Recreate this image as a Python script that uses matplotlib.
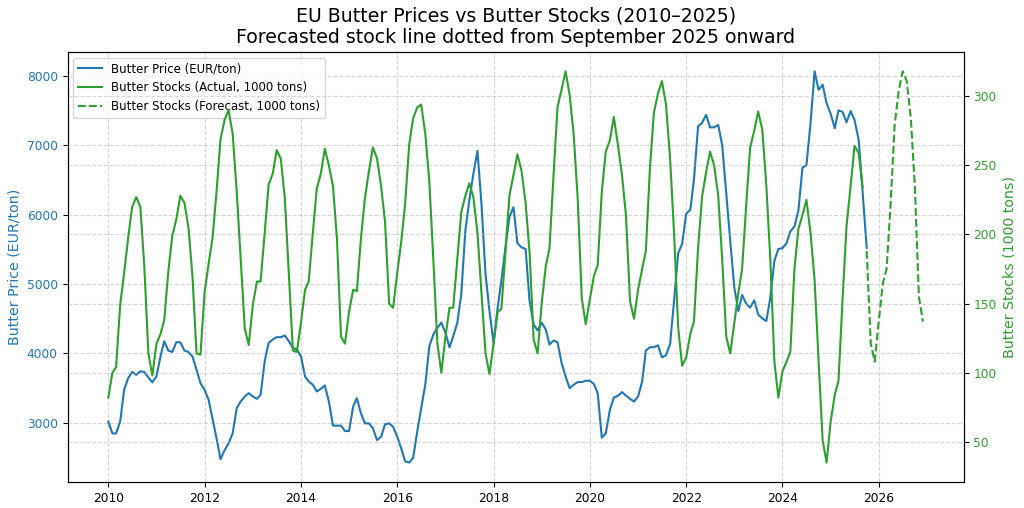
import pandas as pd
import matplotlib
matplotlib.use('Agg')
import matplotlib.pyplot as plt
import matplotlib.dates as mdates

# monthly butter price, Jan 2010 - Oct 2025 (EUR/ton)
price = [
    3015, 2845, 2845, 3015, 3473, 3643, 3730, 3690, 3740, 3730, 3652, 3580,
    3667, 3956, 4174, 4039, 4019, 4159, 4159, 4039, 4019, 3956, 3763, 3570,
    3473, 3328, 3063, 2773, 2473, 2604, 2700, 2845, 3208, 3304, 3377, 3425,
    3377, 3343, 3401, 3884, 4150, 4198, 4232, 4232, 4256, 4174, 4077, 4053,
    3956, 3667, 3594, 3546, 3449, 3488, 3536, 3304, 2957, 2957, 2957, 2879,
    2879, 3232, 3353, 3135, 2990, 2990, 2918, 2749, 2797, 2976, 2990, 2942,
    2797, 2628, 2444, 2425, 2493, 2870, 3208, 3546, 4101, 4270, 4367, 4440,
    4295, 4087, 4246, 4440, 4850, 5768, 6203, 6589, 6918, 6155, 5140, 4609,
    4150, 4657, 5043, 5527, 5961, 6106, 5585, 5527, 5502, 4754, 4415, 4328,
    4440, 4343, 4126, 4184, 4160, 3860, 3667, 3498, 3546, 3585, 3585, 3604,
    3604, 3556, 3425, 2783, 2845, 3184, 3362, 3386, 3440, 3391, 3343, 3304,
    3377, 3594, 4039, 4087, 4087, 4116, 3942, 3971, 4135, 4754, 5440, 5575,
    6010, 6068, 6502, 7270, 7320, 7435, 7256, 7256, 7290, 7000, 6300, 5623,
    4947, 4609, 4841, 4715, 4657, 4763, 4560, 4502, 4464, 4802, 5333, 5502,
    5517, 5585, 5758, 5826, 6058, 6676, 6710, 7314, 8063, 7797, 7870, 7604,
    7450, 7242, 7500, 7480, 7330, 7490, 7360, 7080, 6300, 5520,
]

# monthly butter stocks, Jan 2010 - Sep 2025 (1000 tons)
stocks = [
    82, 100, 104, 149, 172, 198, 220, 227, 220, 177, 114, 98,
    121, 128, 138, 173, 199, 211, 228, 223, 205, 170, 114, 113,
    158, 179, 197, 231, 269, 283, 290, 273, 231, 182, 132, 120,
    149, 166, 166, 201, 236, 244, 261, 255, 226, 172, 116, 115,
    136, 160, 166, 201, 233, 244, 262, 250, 235, 197, 126, 121,
    144, 160, 159, 197, 226, 246, 263, 255, 235, 209, 150, 147,
    172, 195, 222, 265, 284, 292, 294, 273, 238, 182, 121, 100,
    126, 147, 147, 182, 216, 228, 237, 227, 201, 158, 114, 99,
    121, 144, 146, 187, 228, 243, 258, 246, 223, 187, 124, 114,
    150, 177, 190, 243, 292, 305, 318, 301, 272, 226, 154, 135,
    153, 170, 178, 231, 260, 268, 285, 265, 243, 214, 152, 139,
    160, 175, 188, 248, 288, 302, 311, 294, 255, 201, 133, 105,
    111, 128, 137, 190, 227, 245, 260, 250, 228, 182, 126, 114,
    136, 158, 175, 221, 263, 275, 289, 276, 235, 182, 108, 82,
    101, 108, 115, 175, 204, 214, 225, 201, 167, 109, 51, 35,
    65, 84, 94, 153, 206, 235, 264, 259, 234,
]

# forecast stocks, Oct 2025 - Dec 2026
forecast = [188, 121, 108, 138, 165, 175, 223, 279, 304, 318, 311, 284, 235, 155, 137]

price_dates = pd.date_range('2010-01-01', periods=len(price), freq='MS')
stock_dates = pd.date_range('2010-01-01', periods=len(stocks), freq='MS')
fc_dates = pd.date_range('2025-10-01', periods=len(forecast), freq='MS')

blue = '#1f77b4'
green = '#2ca02c'

fig, ax1 = plt.subplots(figsize=(10.24, 5.08), dpi=100)
fig.subplots_adjust(left=0.066, right=0.941, top=0.898, bottom=0.051)

l1, = ax1.plot(price_dates, price, color=blue, lw=1.5, label='Butter Price (EUR/ton)')
ax1.set_ylabel('Butter Price (EUR/ton)', color=blue, fontsize=10.2)
ax1.tick_params(axis='y', labelcolor=blue, labelsize=8.8)
ax1.tick_params(axis='x', labelsize=8.8)
ax1.grid(True, linestyle='--', alpha=0.5)

ax2 = ax1.twinx()
l2, = ax2.plot(stock_dates, stocks, color=green, lw=1.5, label='Butter Stocks (Actual, 1000 tons)')
l3, = ax2.plot(fc_dates, forecast, color=green, lw=1.5, ls='--', label='Butter Stocks (Forecast, 1000 tons)')
ax2.set_ylabel('Butter Stocks (1000 tons)', color=green, fontsize=10.2)
ax2.tick_params(axis='y', labelcolor=green, labelsize=8.8)
ax2.grid(True, linestyle='--', alpha=0.5)

ax1.xaxis.set_major_locator(mdates.YearLocator(2))
ax1.xaxis.set_major_formatter(mdates.DateFormatter('%Y'))

ax1.legend(handles=[l1, l2, l3], loc='upper left', fontsize=8.5)
plt.title('EU Butter Prices vs Butter Stocks (2010–2025)\nForecasted stock line dotted from September 2025 onward', fontsize=13.6)

plt.savefig('out.png')
